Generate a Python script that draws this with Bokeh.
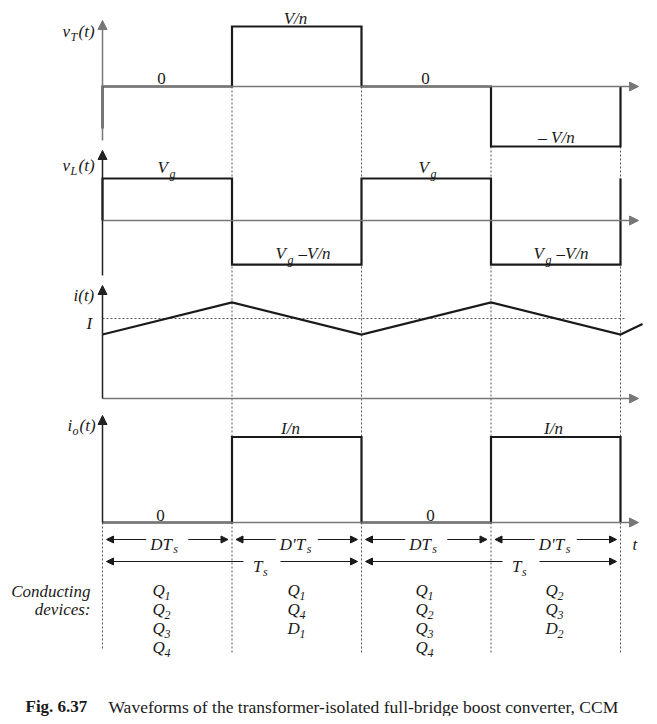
from bokeh.plotting import figure
from bokeh.models import Range1d, Arrow, NormalHead
from bokeh.core.properties import value
from bokeh.embed import file_html
from bokeh.resources import INLINE

# ---------------- data (time in units of one switching sub-interval) ----------------
t_bounds = [0, 1, 2, 3, 4]
vT_t = [0, 0, 1, 1, 2, 2, 3, 3, 4, 4]
vT_v = [-0.7, 0, 0, 1, 1, 0, 0, -1, -1, 0]          # units of V/n
vL_t = [0, 0, 1, 1, 2, 2, 3, 3, 4, 4]
vL_v = [0, 1, 1, -1.05, -1.05, 1, 1, -1.05, -1.05, 1]  # units of Vg
i_t = [0, 1, 2, 3, 4, 4.17]
i_v = [0.8, 1.2, 0.8, 1.2, 0.8, 0.93]               # units of I
I_avg = 1.0
io_t = [0, 1, 1, 2, 2, 3, 3, 4, 4]
io_v = [0, 0, 1, 1, 0, 0, 1, 1, 0]                  # units of I/n
interval_names = [("DT", "s"), ("D'T", "s"), ("DT", "s"), ("D'T", "s")]
devices = [
    [("Q", "1"), ("Q", "2"), ("Q", "3"), ("Q", "4")],
    [("Q", "1"), ("Q", "4"), ("D", "1")],
    [("Q", "1"), ("Q", "2"), ("Q", "3"), ("Q", "4")],
    [("Q", "2"), ("Q", "3"), ("D", "2")],
]

# ---------------- layout ----------------
W, H = 649, 716
X0, XS = 102, 129.5           # picture x of t=0, pixels per unit t
panels = {"vT": (86, 60), "vL": (220, 42), "i": (398, 80), "io": (522, 85.5)}  # baseline y, px per unit

p = figure(width=W, height=H, output_backend="svg", toolbar_location=None,
           x_range=Range1d((0 - X0) / XS, (W - X0) / XS),
           y_range=Range1d(H, 0),
           x_axis_type=None, y_axis_type=None, min_border=0)
p.extra_x_ranges = {"px": Range1d(0, W)}
p.extra_y_ranges = {n: Range1d((b - H) / s, b / s) for n, (b, s) in panels.items()}
p.outline_line_color = None
p.background_fill_color = "white"
p.border_fill_color = "white"

def page_y(panel, v):
    b, s = panels[panel]
    return b - s * v

def page_t(x):
    return (x - X0) / XS

FONT = "Liberation Serif"
INK = "#1a1a1a"

def txt(x, y, s, size=17, style="italic", align="left", color=INK):
    p.text(x=[x], y=[y], text=[s], x_range_name="px",
           text_font=value(FONT), text_font_size=value(f"{size}px"),
           text_font_style=value(style), text_align=value(align),
           text_baseline=value("alphabetic"), text_color=color)

def sub(x, y, main, subs, dx, size=17, subsize=12, tail=None, tdx=0, sdy=5):
    txt(x, y, main, size)
    txt(x + dx, y + sdy, subs, subsize)
    if tail:
        txt(x + tdx, y, tail, size)

def arrow(x0, y0, x1, y1, xr="default", yr="default", size=8, lw=1.0, color=INK):
    p.add_layout(Arrow(end=NormalHead(size=size, fill_color=color, line_color=color, line_width=1),
                       x_start=x0, y_start=y0, x_end=x1, y_end=y1, line_width=lw,
                       line_color=color, x_range_name=xr, y_range_name=yr))

# ---------------- dotted guide lines ----------------
for tb in t_bounds[1:]:
    lv = min(v for tt, v in zip(vT_t, vT_v) if tt == tb)
    p.segment(x0=[tb], y0=[page_y("vT", lv)], x1=[tb], y1=[652],
              line_color="#555", line_width=1, line_dash="2 2")
p.segment(x0=[0], y0=[page_y("io", 0)], x1=[0], y1=[650],
          line_color="#555", line_width=1, line_dash="2 2")
p.segment(x0=[0], y0=[I_avg], x1=[page_t(625)], y1=[I_avg], y_range_name="i",
          line_color="#555", line_width=1, line_dash="2 2")

# ---------------- axes ----------------
t_end = page_t(638)
axis_tops = {"vT": 20, "vL": 150, "i": 285, "io": 415}
axis_bottoms = {"vT": 140, "vL": 275, "i": 398, "io": 522}
for n in panels:
    arrow(0, 0, t_end, 0, yr=n, size=9, lw=1.5, color="#777")
    b, s = panels[n]
    arrow(0, (b - axis_bottoms[n]) / s, 0, (b - axis_tops[n]) / s, yr=n, size=9, lw=1.5,
          color="#777" if n == "vT" else "#222")

# ---------------- waveforms ----------------
kw = dict(line_color=INK, line_width=2.2, line_join="miter")
p.line(vT_t, vT_v, y_range_name="vT", **kw)
p.line(vL_t, vL_v, y_range_name="vL", **kw)
p.line(i_t, i_v, y_range_name="i", **kw)
p.line(io_t, io_v, y_range_name="io", **kw)

# ---------------- axis labels ----------------
sub(62, 31, "v", "T", 8, tail="(t)", tdx=16)
sub(62, 165, "v", "L", 8, tail="(t)", tdx=16)
txt(73, 295, "i(t)")
txt(86, 323, "I")
sub(67, 425, "i", "o", 5, tail="(t)", tdx=12)

# ---------------- value labels ----------------
txt(295, 18, "V/n", align="center")
txt(161, 78, "0", style="normal", align="center")
txt(425, 78, "0", style="normal", align="center")
txt(556, 137, "\u2013 V/n", align="center")
for x in (157, 418):
    sub(x, 167, "V", "g", 12, sdy=6)
for x in (275, 533):
    sub(x, 253, "V", "g", 12, tail="\u2013V/n", tdx=23, sdy=6)
txt(290, 428, "I/n", align="center")
txt(553, 428, "I/n", align="center")
txt(160, 515, "0", style="normal", align="center")
txt(430, 515, "0", style="normal", align="center")

# ---------------- interval arrows ----------------
gap_tip = 4 / XS
half_txt = 21 / XS
y1, y2 = 539, 561
for k in range(4):
    a, b = t_bounds[k], t_bounds[k + 1]
    c = (a + b) / 2
    arrow(c - half_txt, y1, a + gap_tip, y1, size=7)
    arrow(c + half_txt, y1, b - gap_tip, y1, size=7)
    main, s = interval_names[k]
    cx = X0 + XS * c
    w = 23 if main == "DT" else 27
    txt(cx - 17, 544, main)
    txt(cx - 17 + w, 548, s, 12)
for k in (0, 2):
    a, b = t_bounds[k], t_bounds[k + 2]
    c = (a + b) / 2 + 30 / XS
    arrow(c - 18.5 / XS, y2, a + gap_tip, y2, size=7)
    arrow(c + 18.5 / XS, y2, b - gap_tip, y2, size=7)
    cx = X0 + XS * c
    txt(cx - 9, 566, "T")
    txt(cx + 1, 571, "s", 12)
txt(632, 544, "t")

# ---------------- conducting devices ----------------
txt(90, 591, "Conducting", 17, align="right")
txt(90, 609, "devices:", 17, align="right")
col_x = [152, 287, 415, 545]
row_y = [590, 609, 628, 647]
for k, devs in enumerate(devices):
    for r, (m, s) in enumerate(devs):
        txt(col_x[k], row_y[r], m, 17)
        txt(col_x[k] + 12, row_y[r] + 5, s, 12)

# ---------------- caption ----------------
txt(25, 706, "Fig. 6.37", 17, style="bold")
txt(108, 706, "Waveforms of the transformer-isolated full-bridge boost converter, CCM", 17.5, style="normal")

open("out.html", "w").write(file_html(p, INLINE))
